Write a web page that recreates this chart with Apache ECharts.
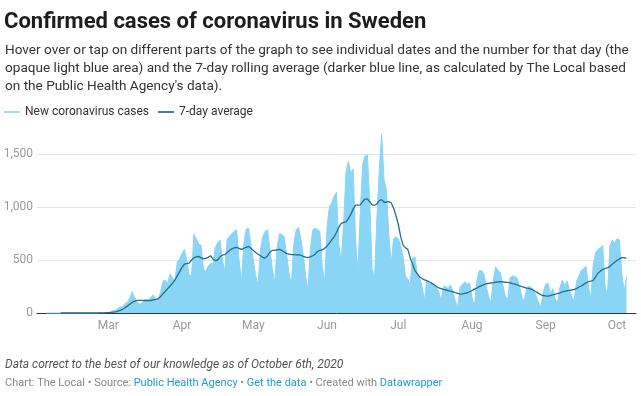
<!DOCTYPE html>
<html>
<head>
<meta charset="utf-8" />
<title>Confirmed cases of coronavirus in Sweden</title>
<script src="https://cdn.jsdelivr.net/npm/echarts@6.0.0/dist/echarts.min.js"></script>
<style>
  html, body { margin: 0; padding: 0; background: #fff; }
  #main { width: 641px; height: 396px; }
</style>
</head>
<body>
<div id="main"></div>
<script>
// axis runs a few days past the data on both sides
const firstDay = '2020-01-31'
const lastDay = '2020-10-09'

// new cases per day, from Feb 4 to Oct 5
const casesStart = '2020-02-04'
const cases = [
  // Feb 4 - 29
  0, 0, 0, 0, 0, 0, 0, 0, 0, 0, 0, 0, 0, 0, 0, 0, 0, 0, 0, 0, 0, 0, 2, 5, 3, 6,
  // Mar
  5, 10, 20, 25, 40, 60, 55, 90, 100, 140, 200, 150, 110, 85, 90, 120, 125, 130, 150, 170,
  130, 125, 200, 300, 310, 280, 370, 330, 300, 480, 510,
  // Apr
  560, 600, 500, 360, 350, 740, 700, 650, 640, 420, 390, 440, 470, 460, 620, 660, 690, 500, 390, 700,
  720, 750, 770, 785, 500, 300, 650, 790, 800, 640,
  // May
  500, 350, 265, 600, 720, 770, 785, 600, 420, 280, 620, 750, 740, 720, 550, 380, 265, 640, 780, 810,
  700, 550, 350, 220, 600, 780, 800, 790, 770, 450, 280,
  // Jun
  800, 1000, 1040, 1100, 1140, 650, 480, 850, 1330, 1430, 1320, 1360, 700, 390, 950, 1400, 1480, 1490, 1050, 420,
  330, 900, 1350, 1690, 1260, 1160, 750, 470, 700, 720,
  // Jul
  700, 640, 530, 350, 320, 270, 515, 530, 360, 330, 248, 122, 311, 275, 280, 270, 250, 200, 122, 248,
  250, 230, 264, 200, 110, 60, 248, 270, 295, 270, 285,
  // Aug
  150, 60, 300, 400, 400, 370, 250, 150, 107, 320, 436, 400, 380, 260, 160, 122, 330, 350, 345, 330,
  250, 150, 107, 240, 250, 240, 220, 160, 100, 60, 200,
  // Sep
  270, 280, 180, 230, 130, 100, 240, 310, 260, 300, 220, 150, 124, 300, 350, 400, 420, 440, 250, 140,
  450, 570, 600, 615, 637, 250, 171, 630, 688, 660,
  // Oct 1 - 5
  700, 690, 380, 203, 345
]

// 7-day rolling average, from Feb 10 to Oct 5
const avgStart = '2020-02-10'
const avg7 = [
  // Feb 10 - 29
  0, 0, 0, 0, 0, 0, 0, 0, 0, 0, 0, 0, 0, 0, 0, 0, 0.3, 1, 1.4, 2.3,
  // Mar
  3, 5, 8, 10, 17, 25, 35, 50, 65, 82, 100, 110, 120, 120, 120, 118, 118, 117, 118, 123,
  128, 135, 155, 182, 205, 230, 255, 280, 310, 350, 390,
  // Apr
  430, 460, 465, 470, 500, 520, 530, 535, 520, 510, 515, 525, 540, 510, 495, 500, 530, 545, 550, 570,
  590, 605, 615, 619, 610, 600, 610, 620, 628, 610,
  // May
  590, 570, 555, 540, 525, 518, 540, 575, 590, 590, 595, 600, 590, 575, 560, 555, 550, 550, 548, 550,
  545, 535, 528, 522, 530, 540, 555, 580, 590, 595, 610,
  // Jun
  630, 660, 690, 719, 760, 810, 845, 855, 860, 890, 930, 980, 1017, 1017, 1020, 1050, 1075, 1075, 1050, 1020,
  1017, 1030, 1060, 1070, 1045, 1045, 1050, 1040, 990, 920,
  // Jul
  835, 720, 640, 615, 600, 520, 460, 400, 370, 340, 325, 312, 305, 295, 282, 268, 250, 238, 230, 222,
  217, 212, 206, 200, 192, 185, 178, 180, 186, 191, 200,
  // Aug
  212, 225, 235, 248, 258, 268, 276, 280, 283, 286, 290, 294, 295, 294, 290, 288, 285, 278, 273, 265,
  255, 248, 242, 235, 232, 222, 212, 200, 185, 172, 165,
  // Sep
  162, 160, 165, 172, 178, 183, 190, 200, 205, 210, 213, 217, 222, 230, 245, 255, 270, 285, 295, 300,
  308, 340, 375, 395, 410, 420, 425, 440, 460, 478,
  // Oct 1 - 5
  495, 510, 522, 522, 515
]

const monthTicks = ['2020-03-01', '2020-04-01', '2020-05-01', '2020-06-01',
  '2020-07-01', '2020-08-01', '2020-09-01', '2020-10-01']
const monthLabels = ['Mar', 'Apr', 'May', 'Jun', 'Jul', 'Aug', 'Sep', 'Oct']

function addDays(iso, n) {
  const d = new Date(iso + 'T00:00:00Z')
  d.setUTCDate(d.getUTCDate() + n)
  return d.toISOString().slice(0, 10)
}

const dates = []
for (let d = firstDay; d <= lastDay; d = addDays(d, 1)) dates.push(d)

// put a series onto the full date axis, null where there is no value
function onAxis(values, start) {
  const out = dates.map(() => null)
  const off = dates.indexOf(start)
  values.forEach((v, i) => { out[off + i] = v })
  return out
}

const font = 'Roboto, "Noto Sans", sans-serif'
const chart = echarts.init(document.getElementById('main'))

chart.setOption({
  animation: false,
  textStyle: { fontFamily: font },
  title: {
    text: 'Confirmed cases of coronavirus in Sweden',
    left: 4,
    top: 11,
    padding: 0,
    textStyle: { fontSize: 22, fontWeight: 'bold', color: '#1d1d1d', fontFamily: font }
  },
  graphic: [
    {
      type: 'text',
      left: 5,
      top: 42,
      style: {
        text: 'Hover over or tap on different parts of the graph to see individual dates and the number for that day (the\n' +
          'opaque light blue area) and the 7-day rolling average (darker blue line, as calculated by The Local based\n' +
          "on the Public Health Agency's data).",
        fontSize: 13.6,
        lineHeight: 18,
        fill: '#333',
        fontFamily: font
      }
    },
    {
      type: 'text',
      left: 5,
      top: 359,
      style: {
        text: 'Data correct to the best of our knowledge as of October 6th, 2020',
        fontSize: 12,
        fontStyle: 'italic',
        fill: '#555',
        fontFamily: font
      }
    },
    {
      type: 'text',
      left: 5,
      top: 378,
      style: {
        text: '{a|Chart: The Local • Source: }{b|Public Health Agency}{a| • }{b|Get the data}{a| • Created with }{b|Datawrapper}',
        fontFamily: font,
        rich: {
          a: { fontSize: 11, fill: '#888', fontFamily: font },
          b: { fontSize: 11, fill: '#1d9bd1', fontFamily: font }
        }
      }
    }
  ],
  legend: {
    left: 4,
    top: 106,
    padding: 0,
    itemWidth: 16,
    itemHeight: 2,
    itemGap: 9,
    icon: 'rect',
    textStyle: { fontSize: 12, color: '#333', fontFamily: font },
    data: ['New coronavirus cases', '7-day average']
  },
  grid: { left: 37, right: 5, top: 154, bottom: 83 },
  xAxis: {
    type: 'category',
    data: dates,
    boundaryGap: false,
    axisLine: { lineStyle: { color: '#333', width: 1 } },
    axisTick: { show: false },
    splitLine: { show: false },
    axisLabel: {
      interval: (i, v) => monthTicks.includes(v),
      formatter: v => monthLabels[monthTicks.indexOf(v)],
      color: '#999',
      fontSize: 12,
      margin: 7
    }
  },
  yAxis: {
    type: 'value',
    min: 0,
    max: 1500,
    interval: 500,
    axisLine: { show: false },
    axisTick: { show: false },
    splitLine: { lineStyle: { color: '#e6e6e6' } },
    axisLabel: {
      color: '#999',
      fontSize: 12,
      margin: 4,
      formatter: v => v.toLocaleString('en-US')
    }
  },
  series: [
    {
      name: 'New coronavirus cases',
      type: 'line',
      data: onAxis(cases, casesStart),
      symbol: 'none',
      clip: false,
      itemStyle: { color: '#a6e0f7' },
      lineStyle: { color: '#8ad5f5', width: 1 },
      areaStyle: { color: '#8ad5f5', opacity: 1 }
    },
    {
      name: '7-day average',
      type: 'line',
      data: onAxis(avg7, avgStart),
      symbol: 'none',
      clip: false,
      itemStyle: { color: '#3f7f98' },
      lineStyle: { color: '#236f8b', width: 1.3 }
    }
  ]
})
</script>
</body>
</html>
